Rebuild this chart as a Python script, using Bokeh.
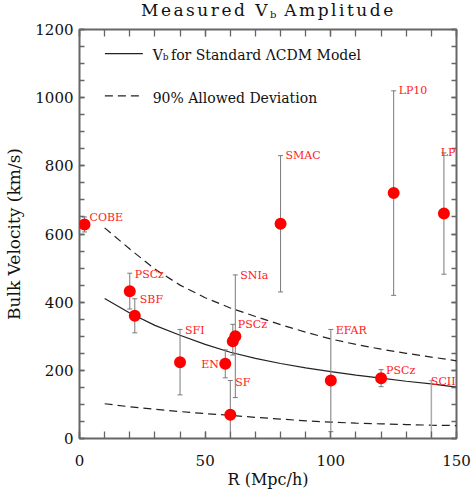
from bokeh.plotting import figure
from bokeh.models import (Range1d, LinearAxis, ColumnDataSource, Label, Div,
                          SingleIntervalTicker)
from bokeh.layouts import column
from bokeh.embed import file_html
from bokeh.resources import INLINE

# ---------------- data ----------------
model_r = [10, 20, 30, 40, 50, 60, 70, 80, 90, 100, 110, 120, 130, 140, 150]
model_v = [411, 368, 332, 303, 276, 253, 235, 220, 207, 196, 186, 177, 168, 160, 151]
upper_v = [618, 556, 497, 450, 413, 383, 358, 334, 312, 292, 276, 262, 250, 239, 228]
lower_v = [102, 93, 86, 79, 73, 68, 62, 57, 52, 48, 45, 43, 41, 39, 38]

survey_names = ["COBE", "PSCz", "SBF", "SFI", "EN", "PSCz", "SNIa", "SF",
                "SMAC", "EFAR", "PSCz", "LP10", "LP"]
survey_r = [2, 20, 22, 40, 58, 61, 62, 60, 80, 100, 120, 125, 145]
survey_v = [628, 432, 360, 224, 219, 285, 300, 70, 630, 170, 177, 720, 660]
survey_lo = [606, 380, 310, 128, 178, 245, 120, -30, 430, 20, 152, 420, 482]
survey_hi = [650, 485, 410, 320, 260, 335, 480, 170, 830, 320, 202, 1020, 838]

limit_names = ["SCII"]
limit_r = [140]
limit_lo = [0]
limit_hi = [170]

X_MAX = 150
Y_MAX = 1200
x_ticks_major = 50
y_ticks_major = 200

# label offsets in screen pixels (layout only); "edge" labels are right-aligned
# against the right frame edge so they are not clipped
label_dx = [5, 5, 5, 5, -24, 5, 5, 5, 5, 5, 5, 5, 0]
label_dy = [-1, -1, -1, -1, -15, 0, -1, -2, 0, -1, -1, 0, 0]
label_edge = [False] * 12 + [True]
limit_dx = [0]
limit_dy = [-1]
limit_edge = [True]

SERIF = "DejaVu Serif"
AXIS_GREY = "#666666"
BAR_GREY = "#7a7a7a"
LABEL_RED = "#ff2020"
INK = "#111111"

TITLE_H = 20

title = Div(
    text=('<div style="position:relative;width:471px;height:%dpx;'
          'font-family:\'DejaVu Serif\';color:#111111;">'
          '<span style="position:absolute;left:141px;top:0px;font-size:17px;'
          'line-height:20px;letter-spacing:2.5px;white-space:nowrap;">Measured V'
          '<span style="font-size:10px;position:relative;top:2px;letter-spacing:0px;">b</span>'
          ' Amplitude</span></div>') % TITLE_H,
    width=471, height=TITLE_H, margin=(0, 0, 0, 0))

p = figure(width=471, height=491 - TITLE_H, x_range=Range1d(0, X_MAX), y_range=Range1d(0, Y_MAX),
           output_backend="svg", toolbar_location=None, title_location=None,
           min_border_left=79, min_border_right=15, min_border_top=9,
           min_border_bottom=53, background_fill_color="white",
           border_fill_color="white", margin=(0, 0, 0, 0))
p.grid.visible = False
p.outline_line_color = AXIS_GREY
p.outline_line_width = 2

p.xaxis.ticker = SingleIntervalTicker(interval=x_ticks_major, num_minor_ticks=5)
p.yaxis.ticker = SingleIntervalTicker(interval=y_ticks_major, num_minor_ticks=4)


def style_axis(ax, tick_len):
    ax.axis_line_color = None
    ax.major_tick_line_color = AXIS_GREY
    ax.minor_tick_line_color = AXIS_GREY
    ax.major_tick_line_width = 1.3
    ax.minor_tick_line_width = 1.3
    ax.major_tick_in = tick_len
    ax.major_tick_out = 0
    ax.minor_tick_in = tick_len
    ax.minor_tick_out = 0
    ax.major_label_text_font = SERIF
    ax.major_label_text_font_size = "15px"
    ax.major_label_text_color = INK
    ax.axis_label_text_font = SERIF
    ax.axis_label_text_font_style = "normal"
    ax.axis_label_text_color = INK


for ax in p.xaxis:
    style_axis(ax, 7)
for ax in p.yaxis:
    style_axis(ax, 5)

p.xaxis.axis_label = "R (Mpc/h)"
p.xaxis.axis_label_text_font_size = "16px"
p.xaxis.major_label_standoff = 16
p.xaxis.axis_label_standoff = 1
p.yaxis.axis_label = "Bulk Velocity (km/s)"
p.yaxis.axis_label_text_font_size = "17px"
p.yaxis.major_label_standoff = 6
p.yaxis.axis_label_standoff = 8

top_ax = LinearAxis(ticker=SingleIntervalTicker(interval=x_ticks_major, num_minor_ticks=5))
right_ax = LinearAxis(ticker=SingleIntervalTicker(interval=y_ticks_major, num_minor_ticks=4))
for ax, tl in ((top_ax, 7), (right_ax, 5)):
    style_axis(ax, tl)
    ax.major_label_text_font_size = "0px"
    ax.major_label_standoff = 0
p.add_layout(top_ax, "above")
p.add_layout(right_ax, "right")

# model curves
p.line(model_r, model_v, line_color="#222222", line_width=1.2)
p.line(model_r, upper_v, line_color="#222222", line_width=1.2, line_dash="8 5")
p.line(model_r, lower_v, line_color="#222222", line_width=1.2, line_dash="8 5")

# error bars
src = ColumnDataSource(dict(r=survey_r, v=survey_v, lo=survey_lo, hi=survey_hi))
p.segment(x0="r", y0="lo", x1="r", y1="hi", source=src, line_color=BAR_GREY, line_width=1)
p.scatter(x="r", y="lo", source=src, marker="dash", size=5, line_color=BAR_GREY, line_width=1)
p.scatter(x="r", y="hi", source=src, marker="dash", size=5, line_color=BAR_GREY, line_width=1)

lim_src = ColumnDataSource(dict(r=limit_r, lo=limit_lo, hi=limit_hi))
p.segment(x0="r", y0="lo", x1="r", y1="hi", source=lim_src, line_color="#aaaaaa", line_width=1.5)
p.scatter(x="r", y="hi", source=lim_src, marker="dash", size=5, line_color="#aaaaaa", line_width=1)

# points
p.scatter(x="r", y="v", source=src, marker="circle", size=12,
          fill_color="#ff0000", line_color=None)

# survey names
for names, rs, his, dxs, dys, edges in (
        (survey_names, survey_r, survey_hi, label_dx, label_dy, label_edge),
        (limit_names, limit_r, limit_hi, limit_dx, limit_dy, limit_edge)):
    for n, r, h, dx, dy, edge in zip(names, rs, his, dxs, dys, edges):
        if edge:
            lab = Label(x=X_MAX, y=h, x_offset=-1, y_offset=dy, text=n, text_align="right")
        else:
            lab = Label(x=r, y=h, x_offset=dx, y_offset=dy, text=n)
        lab.text_font = SERIF
        lab.text_font_size = "11px"
        lab.text_color = LABEL_RED
        lab.text_baseline = "alphabetic"
        p.add_layout(lab)

# legend (drawn by hand)
LEG_X = [10.1, 25.2]
p.line(LEG_X, [1129, 1129], line_color="#222222", line_width=1.2)
p.line(LEG_X, [1005, 1005], line_color="#222222", line_width=1.2, line_dash="8 5")
p.add_layout(Label(x=29.1, y=1125, text="V", text_baseline="alphabetic",
                   text_font=SERIF, text_font_size="14px", text_color=INK))
p.add_layout(Label(x=33.1, y=1120, text="b", text_baseline="alphabetic",
                   text_font=SERIF, text_font_size="9px", text_color=INK))
p.add_layout(Label(x=36.4, y=1125, text="for Standard ΛCDM Model", text_baseline="alphabetic",
                   text_font=SERIF, text_font_size="14px", text_color=INK))
p.add_layout(Label(x=29.1, y=1000, text="90% Allowed Deviation", text_baseline="alphabetic",
                   text_font=SERIF, text_font_size="14px", text_color=INK))

layout = column(title, p, spacing=0)
open("out.html", "w").write(file_html(layout, INLINE))
